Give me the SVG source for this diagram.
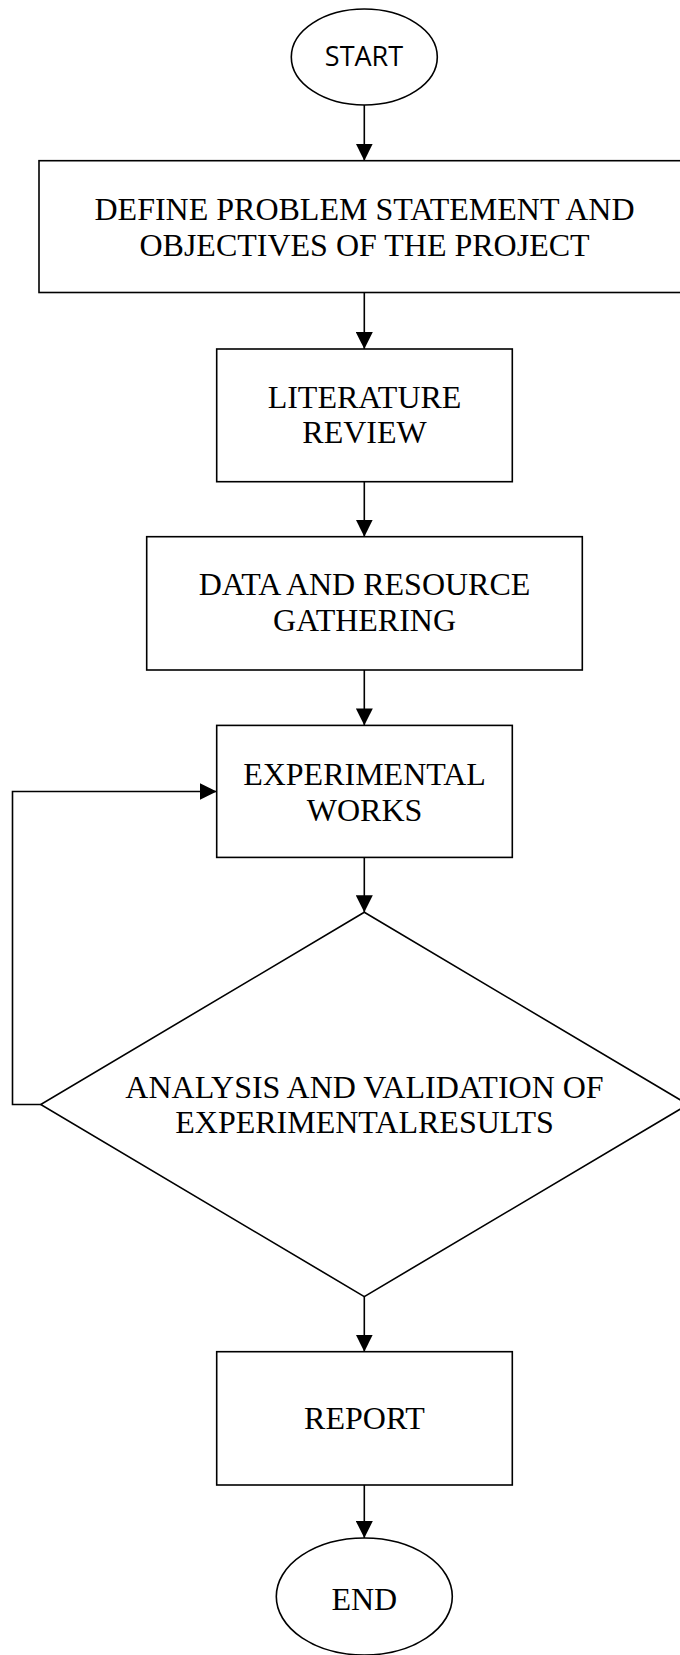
<svg xmlns="http://www.w3.org/2000/svg" width="680" height="1655" viewBox="0 0 680 1655">
  <style>
    .shape { fill: #ffffff; stroke: #000000; stroke-width: 1.6; }
    .link { fill: none; stroke: #000000; stroke-width: 1.6; }
    .label { font-family: "Liberation Serif", "Times New Roman", serif; font-size: 32px; fill: #000000; text-anchor: middle; }
    .term { font-family: "Open Sans", "Noto Sans", sans-serif; font-size: 27px; fill: #000000; text-anchor: middle; }
  </style>
  <defs>
    <marker id="arrow" markerUnits="userSpaceOnUse" markerWidth="17" markerHeight="17" viewBox="0 0 16 16" refX="16" refY="8" orient="auto">
      <path d="M0,0 L16,8 L0,16 z" fill="#000000"/>
    </marker>
  </defs>
  <rect width="680" height="1655" fill="#ffffff"/>

  <!-- connectors -->
  <g id="connectors">
    <line class="link" x1="364.3" y1="105" x2="364.3" y2="160.7" marker-end="url(#arrow)"/>
    <line class="link" x1="364.3" y1="292.5" x2="364.3" y2="349" marker-end="url(#arrow)"/>
    <line class="link" x1="364.3" y1="481.7" x2="364.3" y2="536.7" marker-end="url(#arrow)"/>
    <line class="link" x1="364.3" y1="670" x2="364.3" y2="725.4" marker-end="url(#arrow)"/>
    <line class="link" x1="364.3" y1="857.4" x2="364.3" y2="912.3" marker-end="url(#arrow)"/>
    <polyline class="link" points="40.7,1104.5 12.5,1104.5 12.5,791.5 216.7,791.5" marker-end="url(#arrow)"/>
    <line class="link" x1="364.3" y1="1296.6" x2="364.3" y2="1351.7" marker-end="url(#arrow)"/>
    <line class="link" x1="364.3" y1="1485" x2="364.3" y2="1538" marker-end="url(#arrow)"/>
  </g>

  <g id="start">
    <ellipse class="shape" cx="364.3" cy="57" rx="73" ry="48"/>
    <text class="term" x="364" y="66">START</text>
  </g>

  <g id="define">
    <rect class="shape" x="39" y="160.7" width="650" height="131.8"/>
    <text class="label" x="364.5" y="219.5">DEFINE PROBLEM STATEMENT AND</text>
    <text class="label" x="364.5" y="255.5">OBJECTIVES OF THE PROJECT</text>
  </g>

  <g id="literature">
    <rect class="shape" x="216.7" y="349" width="295.6" height="132.7"/>
    <text class="label" x="364.5" y="407.7">LITERATURE</text>
    <text class="label" x="364.5" y="443">REVIEW</text>
  </g>

  <g id="data">
    <rect class="shape" x="146.7" y="536.7" width="435.6" height="133.3"/>
    <text class="label" x="364.5" y="595">DATA AND RESOURCE</text>
    <text class="label" x="364.5" y="630.5">GATHERING</text>
  </g>

  <g id="experimental">
    <rect class="shape" x="216.7" y="725.4" width="295.6" height="132"/>
    <text class="label" x="364.5" y="784.5">EXPERIMENTAL</text>
    <text class="label" x="364.5" y="820.5">WORKS</text>
  </g>

  <g id="analysis">
    <polygon class="shape" points="364.3,912.3 688,1104.5 364.3,1296.6 40.7,1104.5"/>
    <text class="label" x="364.5" y="1097.5">ANALYSIS AND VALIDATION OF</text>
    <text class="label" x="364.5" y="1133">EXPERIMENTALRESULTS</text>
  </g>

  <g id="report">
    <rect class="shape" x="216.7" y="1351.7" width="295.6" height="133.3"/>
    <text class="label" x="364.5" y="1429">REPORT</text>
  </g>

  <g id="end">
    <ellipse class="shape" cx="364.3" cy="1596.5" rx="88" ry="58.5"/>
    <text class="label" x="364.3" y="1610">END</text>
  </g>
</svg>
